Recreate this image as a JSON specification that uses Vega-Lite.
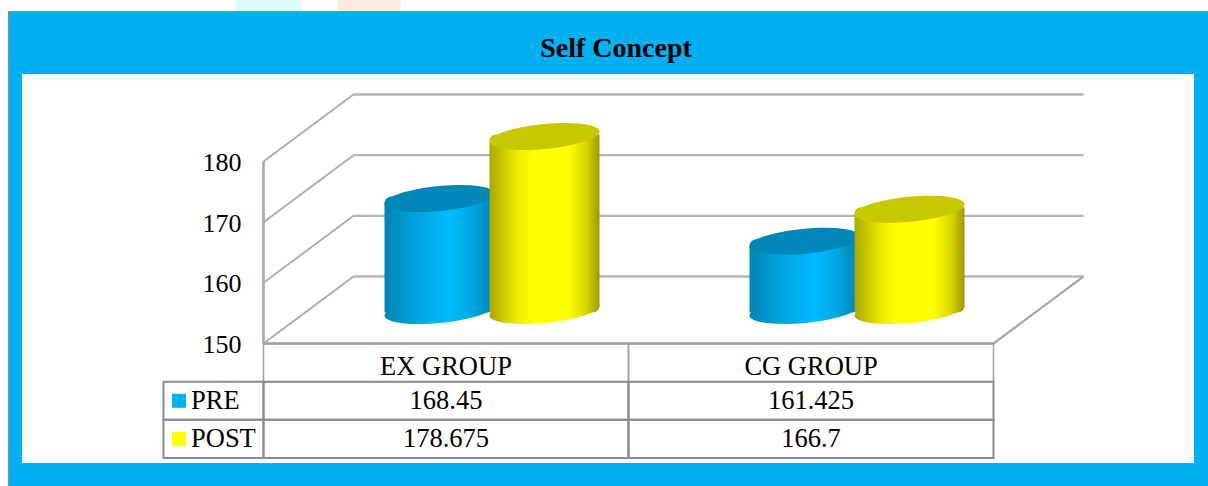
{
"$schema":"https://vega.github.io/schema/vega-lite/v6.json",
"width":1208,"height":486,"padding":0,"autosize":"none","background":"#ffffff",
"title":{"text":"Self Concept","font":"Liberation Serif","fontSize":28,"fontWeight":"bold","color":"#000000","anchor":"middle","frame":"group","dx":12,"offset":-63,"zindex":1},
"config":{"view":{"stroke":null},"font":"Liberation Serif"},
"datasets":{
"bars":[{"group":"EX GROUP","series":"PRE","value":168.45},{"group":"CG GROUP","series":"PRE","value":161.425},{"group":"EX GROUP","series":"POST","value":178.675},{"group":"CG GROUP","series":"POST","value":166.7}],
"grid":[{"value":150},{"value":160},{"value":170},{"value":180}],
"groups":[{"group":"EX GROUP"},{"group":"CG GROUP"}],
"series":[{"series":"PRE"},{"series":"POST"}]
},
"resolve":{"scale":{"x":"independent","y":"independent"}},
"layer":[
{"data":{"name":"grid"},
"encoding":{"y":{"field":"value","type":"quantitative","scale":{"domain":[150,180],"range":[343.5,161.5],"nice":false,"zero":false},"axis":{"orient":"left","offset":-263,"values":[150,160,170,180],"ticks":false,"domain":false,"grid":false,"title":null,"labelFont":"Liberation Serif","labelFontSize":26,"labelColor":"#000000","labelPadding":22,"labelOffset":1,"zindex":1}},
"x":{"datum":0,"type":"quantitative","scale":{"domain":[0,2],"range":[263.5,993.5],"nice":false,"zero":false},"axis":null}},
"layer":[
{"transform":[{"filter":"datum.value===180"}],"mark":{"type":"rect","fill":"#DDFBFF","xOffset":-28,"x2Offset":38,"yOffset":-162,"y2Offset":-150},"encoding":{"x2":{"datum":0},"y":{"datum":180},"y2":{"datum":180}}},
{"transform":[{"filter":"datum.value===180"}],"mark":{"type":"rect","fill":"#FFEBDD","xOffset":74,"x2Offset":137,"yOffset":-162,"y2Offset":-150},"encoding":{"x2":{"datum":0},"y":{"datum":180},"y2":{"datum":180}}},
{"transform":[{"filter":"datum.value===180"}],"mark":{"type":"rect","fill":"#00B0F0","stroke":"#8C8C8C","strokeWidth":1,"xOffset":-255,"x2Offset":225,"yOffset":-150,"y2Offset":150},"encoding":{"x2":{"datum":2},"y":{"datum":180},"y2":{"datum":150}}},
{"transform":[{"filter":"datum.value===180"}],"mark":{"type":"bar","fill":"#ffffff","xOffset":-241.5,"x2Offset":200.5,"yOffset":-87.5,"y2Offset":119.5},"encoding":{"x2":{"datum":2},"y":{"datum":180},"y2":{"datum":150}}},
{"mark":{"type":"rule","color":"#ABABAB","strokeWidth":1.8,"x2Offset":90,"y2Offset":-67},"encoding":{"x2":{"datum":0},"y2":{"field":"value"}}},
{"mark":{"type":"rule","color":"#B4B4B4","strokeWidth":2.4,"xOffset":90,"yOffset":-67,"x2Offset":90,"y2Offset":-67},"encoding":{"x2":{"datum":2},"y2":{"field":"value"}}},
{"mark":{"type":"rule","color":"#ABABAB","strokeWidth":1.8,"x2Offset":90,"y2Offset":-67},"encoding":{"x":{"datum":2},"x2":{"datum":2},"y":{"datum":150},"y2":{"datum":150}}},
{"mark":{"type":"rule","color":"#B4B4B4","strokeWidth":2.4},"encoding":{"x2":{"datum":2},"y":{"datum":150},"y2":{"datum":150}}},
{"mark":{"type":"rule","color":"#ABABAB","strokeWidth":1.8},"encoding":{"y":{"datum":180},"y2":{"datum":150}}}
]},
{"data":{"name":"bars"},
"encoding":{"x":{"field":"group","type":"nominal","scale":{"domain":["EX GROUP","CG GROUP"],"range":[309.5,1039.5],"paddingInner":0,"paddingOuter":0},"axis":null},
"xOffset":{"field":"series","type":"nominal","scale":{"domain":["PRE","POST"],"paddingInner":0,"paddingOuter":0.738}},
"y":{"field":"value","type":"quantitative","scale":{"domain":[150,180],"range":[343.5,161.5],"nice":false,"zero":false},"axis":null}},
"layer":[
{"transform":[{"filter":"datum.series==='PRE'"}],"mark":{"type":"point","filled":true,"size":12100,"strokeWidth":0,"opacity":1,"yOffset":-33,"shape":"M1,-0.09 C1,-0.216 0.552,-0.278 0,-0.228 C-0.552,-0.178 -1,-0.036 -1,0.09 C-1,0.216 -0.552,0.278 0,0.228 C0.552,0.178 1,0.036 1,-0.09 Z","fill":{"gradient":"linear","x1":0,"x2":1,"y1":0,"y2":0,"stops":[{"offset":0,"color":"#0084B5"},{"offset":0.3,"color":"#00A6E2"},{"offset":0.6,"color":"#00BBFF"},{"offset":0.8,"color":"#00A6E2"},{"offset":1,"color":"#0080B0"}]}},"encoding":{"y":{"datum":150}}},
{"transform":[{"filter":"datum.series==='PRE'"}],"mark":{"type":"bar","width":110,"yOffset":-35,"y2Offset":-31,"cornerRadiusTopLeft":7,"cornerRadiusBottomRight":7,"fill":{"gradient":"linear","x1":0,"x2":1,"y1":0,"y2":0,"stops":[{"offset":0,"color":"#0084B5"},{"offset":0.3,"color":"#00A6E2"},{"offset":0.6,"color":"#00BBFF"},{"offset":0.8,"color":"#00A6E2"},{"offset":1,"color":"#0080B0"}]}},"encoding":{"y2":{"datum":150}}},
{"transform":[{"filter":"datum.series==='PRE'"}],"mark":{"type":"point","filled":true,"size":12100,"strokeWidth":0,"opacity":1,"yOffset":-33,"color":"#0087B8","shape":"M1,-0.09 C1,-0.216 0.552,-0.278 0,-0.228 C-0.552,-0.178 -1,-0.036 -1,0.09 C-1,0.216 -0.552,0.278 0,0.228 C0.552,0.178 1,0.036 1,-0.09 Z"}},
{"transform":[{"filter":"datum.series==='POST'"}],"mark":{"type":"point","filled":true,"size":12100,"strokeWidth":0,"opacity":1,"yOffset":-33,"shape":"M1,-0.09 C1,-0.216 0.552,-0.278 0,-0.228 C-0.552,-0.178 -1,-0.036 -1,0.09 C-1,0.216 -0.552,0.278 0,0.228 C0.552,0.178 1,0.036 1,-0.09 Z","fill":{"gradient":"linear","x1":0,"x2":1,"y1":0,"y2":0,"stops":[{"offset":0,"color":"#A8A800"},{"offset":0.25,"color":"#EDED00"},{"offset":0.4,"color":"#FFFF00"},{"offset":0.72,"color":"#FFFF00"},{"offset":0.88,"color":"#D6D600"},{"offset":1,"color":"#9A9A00"}]}},"encoding":{"y":{"datum":150}}},
{"transform":[{"filter":"datum.series==='POST'"}],"mark":{"type":"bar","width":110,"yOffset":-35,"y2Offset":-31,"cornerRadiusTopLeft":7,"cornerRadiusBottomRight":7,"fill":{"gradient":"linear","x1":0,"x2":1,"y1":0,"y2":0,"stops":[{"offset":0,"color":"#A8A800"},{"offset":0.25,"color":"#EDED00"},{"offset":0.4,"color":"#FFFF00"},{"offset":0.72,"color":"#FFFF00"},{"offset":0.88,"color":"#D6D600"},{"offset":1,"color":"#9A9A00"}]}},"encoding":{"y2":{"datum":150}}},
{"transform":[{"filter":"datum.series==='POST'"}],"mark":{"type":"point","filled":true,"size":12100,"strokeWidth":0,"opacity":1,"yOffset":-33,"color":"#C8C800","shape":"M1,-0.09 C1,-0.216 0.552,-0.278 0,-0.228 C-0.552,-0.178 -1,-0.036 -1,0.09 C-1,0.216 -0.552,0.278 0,0.228 C0.552,0.178 1,0.036 1,-0.09 Z"}}
]},
{"encoding":{"x":{"field":"group","type":"nominal","scale":{"domain":["EX GROUP","CG GROUP"],"range":[263.5,993.5],"paddingInner":0,"paddingOuter":0},"axis":null},
"y":{"field":"series","type":"nominal","scale":{"domain":["header","PRE","POST"],"range":[343.5,458],"paddingInner":0,"paddingOuter":0},"axis":null}},
"layer":[
{"data":{"name":"groups"},"mark":{"type":"rect","fill":null,"stroke":"#A0A0A0","strokeWidth":1.5},"encoding":{"y":{"datum":"header"}}},
{"data":{"name":"bars"},"mark":{"type":"rect","fill":null,"stroke":"#8C8C8C","strokeWidth":2}},
{"data":{"name":"groups"},"mark":{"type":"text","font":"Liberation Serif","fontSize":26.5,"color":"#000000","yOffset":4},"encoding":{"y":{"datum":"header"},"text":{"field":"group","type":"nominal"}}},
{"data":{"name":"bars"},"mark":{"type":"text","font":"Liberation Serif","fontSize":26.5,"color":"#000000"},"encoding":{"text":{"field":"value","type":"nominal"}}}
]},
{"data":{"name":"series"},
"encoding":{"x":{"datum":"legend","type":"nominal","scale":{"domain":["legend"],"range":[163.5,263.5],"paddingInner":0,"paddingOuter":0},"axis":null},
"y":{"field":"series","type":"nominal","scale":{"domain":["header","PRE","POST"],"range":[343.5,458],"paddingInner":0,"paddingOuter":0},"axis":null}},
"layer":[
{"mark":{"type":"rect","fill":null,"stroke":"#8C8C8C","strokeWidth":2}},
{"mark":{"type":"point","shape":"square","filled":true,"size":196,"strokeWidth":0,"opacity":1,"xOffset":-34.5},"encoding":{"color":{"field":"series","type":"nominal","scale":{"domain":["PRE","POST"],"range":["#00B0F0","#FFFF00"]},"legend":null}}},
{"mark":{"type":"text","align":"left","font":"Liberation Serif","fontSize":26.5,"color":"#000000","xOffset":-22.5},"encoding":{"text":{"field":"series","type":"nominal"}}}
]}
]
}
